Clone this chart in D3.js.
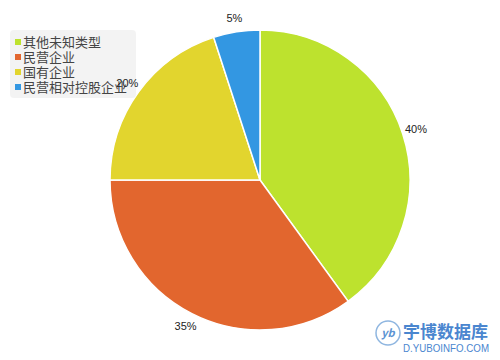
<!DOCTYPE html>
<html>
<head>
<meta charset="utf-8">
<script src="https://cdn.jsdelivr.net/npm/d3@7"></script>
<style>
  body { margin: 0; background: #fff; }
  svg { display: block; font-family: "Noto Sans CJK SC", "DejaVu Sans", sans-serif; }
</style>
</head>
<body>
<div id="chart"></div>
<script>
// chart data
var categories = ["其他未知类型", "民营企业", "国有企业", "民营相对控股企业"];
var values = [40, 35, 20, 5];
var labels = ["40%", "35%", "20%", "5%"];
var colors = ["#bde22e", "#e2662e", "#e2d52e", "#3397e2"];

var width = 500, height = 360;
var cx = 260, cy = 180, radius = 150;

var svg = d3.select("#chart").append("svg")
    .attr("width", width)
    .attr("height", height);

var pie = d3.pie().sort(null).value(function(d) { return d; });
var arcs = pie(values);

var arc = d3.arc().innerRadius(0).outerRadius(radius);
var labelArc = d3.arc().innerRadius(164).outerRadius(164);

var g = svg.append("g")
    .attr("transform", "translate(" + cx + "," + cy + ")");

// slices
g.selectAll("path.slice")
    .data(arcs)
  .enter().append("path")
    .attr("class", "slice")
    .attr("d", arc)
    .attr("fill", function(d, i) { return colors[i]; })
    .attr("stroke", "#fff")
    .attr("stroke-width", 1.5);

// legend (drawn before labels so the 20% label sits on top)
var legend = svg.append("g").attr("transform", "translate(10,30)");
legend.append("rect")
    .attr("width", 126).attr("height", 68)
    .attr("rx", 4)
    .attr("fill", "#f2f2f2")
    .attr("fill-opacity", 0.9);

var item = legend.selectAll("g.item")
    .data(categories)
  .enter().append("g")
    .attr("class", "item")
    .attr("transform", function(d, i) { return "translate(5," + (12 + i * 15) + ")"; });

item.append("rect")
    .attr("x", 0).attr("y", -3)
    .attr("width", 6).attr("height", 6)
    .attr("fill", function(d, i) { return colors[i]; });

item.append("text")
    .attr("x", 8).attr("y", 0)
    .attr("dy", "0.35em")
    .attr("font-size", 13)
    .attr("fill", "#444")
    .text(function(d) { return d; });

// percentage labels
svg.append("g")
    .attr("transform", "translate(" + cx + "," + cy + ")")
  .selectAll("text")
    .data(arcs)
  .enter().append("text")
    .attr("transform", function(d) { return "translate(" + labelArc.centroid(d) + ")"; })
    .attr("text-anchor", "middle")
    .attr("dy", "0.35em")
    .attr("font-size", 11)
    .attr("font-family", "Liberation Sans, Arial, sans-serif")
    .attr("fill", "#222")
    .text(function(d, i) { return labels[i]; });

// watermark
var wm = svg.append("g").attr("transform", "translate(376,318)");
wm.append("circle")
    .attr("cx", 12).attr("cy", 15).attr("r", 12)
    .attr("fill", "none")
    .attr("stroke", "#8fb6e0")
    .attr("stroke-width", 1.5);
wm.append("text")
    .attr("x", 12).attr("y", 19)
    .attr("text-anchor", "middle")
    .attr("font-size", 11)
    .attr("font-style", "italic")
    .attr("font-weight", "bold")
    .attr("fill", "#5b93d2")
    .text("yb");
wm.append("text")
    .attr("x", 27).attr("y", 20)
    .attr("font-size", 17)
    .attr("font-weight", "bold")
    .attr("fill", "#4a86cf")
    .text("宇博数据库");
wm.append("text")
    .attr("x", 27).attr("y", 34)
    .attr("font-size", 11)
    .attr("textLength", 86)
    .attr("lengthAdjust", "spacingAndGlyphs")
    .attr("font-family", "Liberation Sans, Arial, sans-serif")
    .attr("fill", "#4a86cf")
    .text("D.YUBOINFO.COM");
</script>
</body>
</html>
